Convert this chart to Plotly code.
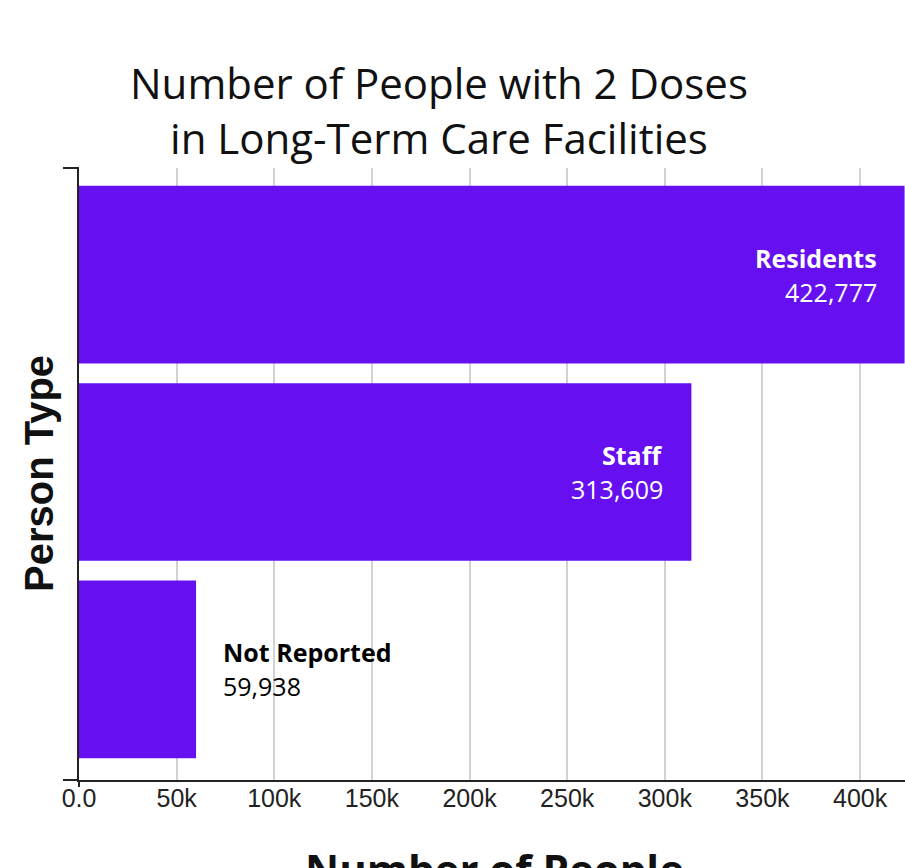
import plotly.graph_objects as go

categories = ["Residents", "Staff", "Not Reported"]
values = [422777, 313609, 59938]
value_labels = ["422,777", "313,609", "59,938"]
tick_vals = [0, 50000, 100000, 150000, 200000, 250000, 300000, 350000, 400000]
tick_text = ["0.0", "50k", "100k", "150k", "200k", "250k", "300k", "350k", "400k"]
title_text = "Number of People with 2 Doses<br>in Long-Term Care Facilities"
x_title = "Number of People"
y_title = "Person Type"

BAR = "#6610f2"
W, H = 905, 868
ML, MR, MT, MB = 79, 0, 168, 88
plot_w = W - ML - MR
plot_h = H - MT - MB

fig = go.Figure(go.Bar(
    x=values, y=categories, orientation="h",
    marker=dict(color=BAR, line=dict(width=0)),
    width=0.9, hoverinfo="x+y",
))

annotations = []
for cat, v, lab in zip(categories, values, value_labels):
    inside = v > 150000
    color = "white" if inside else "black"
    anchor = "right" if inside else "left"
    shift = -26 if inside else 25
    annotations.append(dict(x=v, y=cat, xref="x", yref="y", text="<b>" + cat + "</b>",
                            showarrow=False, xanchor=anchor, yanchor="middle",
                            xshift=shift, yshift=17,
                            font=dict(family="Open Sans", size=25, color=color)))
    annotations.append(dict(x=v, y=cat, xref="x", yref="y", text=lab,
                            showarrow=False, xanchor=anchor, yanchor="middle",
                            xshift=shift, yshift=-17,
                            font=dict(family="Open Sans", size=25, color=color)))

# chart title (centre given in page pixels)
annotations.append(dict(x=(439 - ML) / plot_w, y=(H - MB - 110) / plot_h,
                        xref="paper", yref="paper",
                        text=title_text, showarrow=False, xanchor="center", yanchor="middle",
                        align="center",
                        font=dict(family="Open Sans", size=42, color="#111")))

annotations.append(dict(x=(494 - ML) / plot_w, y=0, xref="paper", yref="paper",
                        text="<b>" + x_title + "</b>",
                        showarrow=False, xanchor="center", yanchor="middle", yshift=-88,
                        font=dict(family="Open Sans", size=42, color="#111")))
annotations.append(dict(x=0, y=0.5, xref="paper", yref="paper", text="<b>" + y_title + "</b>",
                        showarrow=False, xanchor="center", yanchor="middle", xshift=-40,
                        textangle=-90,
                        font=dict(family="Liberation Sans, Arial", size=40, color="#111")))

shapes = [
    dict(type="line", xref="paper", yref="paper", xsizemode="pixel", xanchor=0,
         x0=-16, x1=0, y0=1, y1=1, line=dict(color="#222", width=2)),
    dict(type="line", xref="paper", yref="paper", xsizemode="pixel", xanchor=0,
         x0=-16, x1=0, y0=0, y1=0, line=dict(color="#222", width=2)),
    dict(type="line", xref="paper", yref="paper", ysizemode="pixel", yanchor=0,
         x0=0, x1=0, y0=-7, y1=0, line=dict(color="#222", width=2)),
]

fig.update_layout(
    width=W, height=H,
    margin=dict(l=ML, r=MR, t=MT, b=MB),
    paper_bgcolor="white", plot_bgcolor="white",
    showlegend=False,
    annotations=annotations,
    shapes=shapes,
    xaxis=dict(range=[0, 423000], tickvals=tick_vals, ticktext=tick_text,
               showgrid=True, gridcolor="#d3d3d3", gridwidth=2,
               showline=True, linecolor="#222", linewidth=2,
               zeroline=False, ticks="", ticklabelstandoff=-5,
               tickfont=dict(family="Liberation Sans, Arial", size=25, color="#222"),
               fixedrange=True),
    yaxis=dict(categoryorder="array", categoryarray=categories,
               range=[2.56, -0.54], showticklabels=False, ticks="",
               showgrid=False, showline=True, linecolor="#222", linewidth=2,
               zeroline=False, fixedrange=True),
)

fig.write_html("out.html", config={"displayModeBar": False},
               post_script="document.body.style.margin='0';document.body.style.overflow='hidden';")
